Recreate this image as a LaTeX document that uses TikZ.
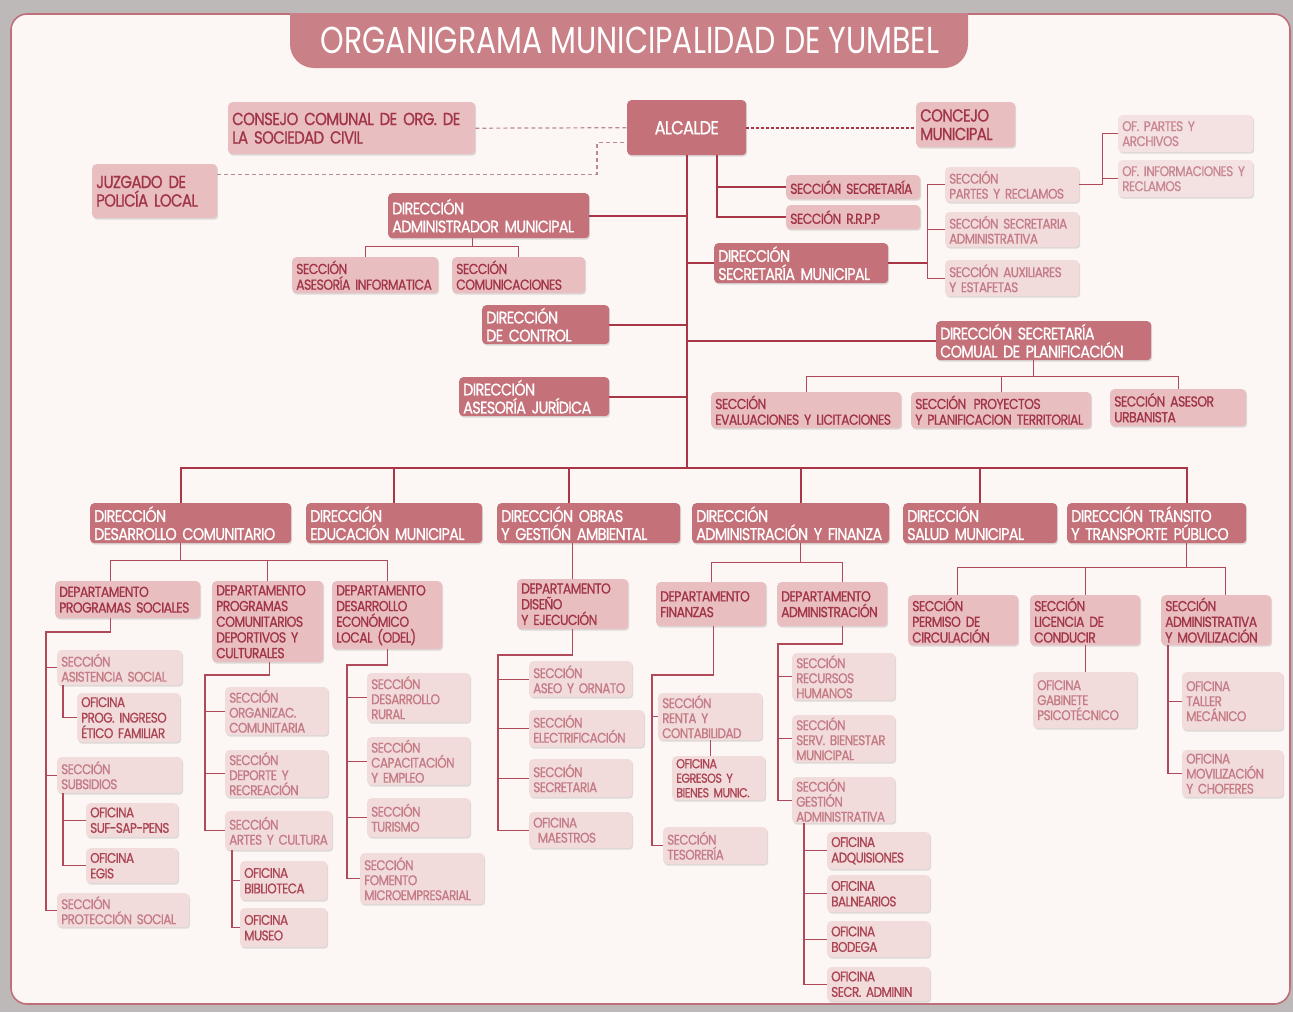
\documentclass[tikz,border=0pt]{standalone}
\usepackage{fontspec}
\newfontfamily\orgfont{Poppins}[FakeStretch=0.86, LetterSpace=-4, FakeBold=0.8, WordSpace=0.7]
\newfontfamily\titlefont{Poppins}[FakeStretch=0.8]
\usetikzlibrary{shadows}
\definecolor{outergray}{HTML}{BDB9B9}
\definecolor{panelbg}{HTML}{FCF7F5}
\definecolor{framecol}{HTML}{BE6F79}
\definecolor{tabfill}{HTML}{C98087}
\definecolor{dirfill}{HTML}{C5717A}
\definecolor{secfill}{HTML}{E8BEC0}
\definecolor{sectext}{HTML}{A13547}
\definecolor{subfill}{HTML}{F1DBDB}
\definecolor{subtext}{HTML}{C47B86}
\definecolor{ofitext}{HTML}{AB4453}
\definecolor{oflfill}{HTML}{F4E2E2}
\definecolor{ofltext}{HTML}{C88790}
\definecolor{linecol}{HTML}{A83647}
\definecolor{twigcol}{HTML}{B04959}
\definecolor{dashcol}{HTML}{B98A8F}

\begin{document}
\begin{tikzpicture}[x=1pt, y=-1pt,
  box/.style={rounded corners=4pt, anchor=north west, inner xsep=4pt, inner ysep=1pt, align=left,
    drop shadow={shadow xshift=1pt, shadow yshift=-1.5pt, opacity=0.25}},
  dirbox/.style={box, fill=dirfill, text=white, font=\orgfont\fontsize{16.8}{18}\selectfont},
  secbox/.style={box, fill=secfill, text=sectext, font=\orgfont\fontsize{14.5}{15.7}\selectfont},
  subbox/.style={box, fill=subfill, text=subtext, font=\orgfont\fontsize{14}{15}\selectfont},
  ofibox/.style={box, fill=subfill, text=ofitext, font=\orgfont\fontsize{14}{15.5}\selectfont},
  oflbox/.style={box, fill=oflfill, text=ofltext, font=\orgfont\fontsize{14}{15}\selectfont},
  trunk/.style={draw=linecol, line width=1.8pt},
  twig/.style={draw=twigcol, line width=1.3pt},
  dashline/.style={draw=dashcol, line width=1.2pt, dash pattern=on 4pt off 3pt},
  dotline/.style={draw=linecol, line width=2.4pt, dash pattern=on 2.4pt off 2.6pt}]
\useasboundingbox (0,0) rectangle (1293,1012);
\fill[outergray] (0,0) rectangle (1293,1012);
\draw[fill=panelbg, draw=framecol, line width=1.6pt, rounded corners=16pt] (11,14) rectangle (1290,1004);
\fill[tabfill] (290,13) [rounded corners=24pt] -- (290,68) -- (968,68) [sharp corners] -- (968,13) -- cycle;
\node[text=white, font=\titlefont\fontsize{37.5}{40}\selectfont] (title) at (630,40) {ORGANIGRAMA MUNICIPALIDAD DE YUMBEL};

\node[dirbox, text width=111pt, minimum height=55pt, align=center, font=\orgfont\fontsize{19}{22}\selectfont] (alcalde) at (627,100) {ALCALDE};
\node[secbox, text width=239pt, minimum height=52pt, font=\orgfont\fontsize{17.5}{18.5}\selectfont] (consejo) at (228,102) {CONSEJO COMUNAL DE ORG. DE\\LA SOCIEDAD CIVIL};
\node[secbox, text width=91pt, minimum height=45pt, font=\orgfont\fontsize{17.5}{18.5}\selectfont] (concejo) at (916,102) {CONCEJO\\MUNICIPAL};
\node[secbox, text width=117pt, minimum height=54pt, font=\orgfont\fontsize{17.5}{18.5}\selectfont] (juzgado) at (92,164) {JUZGADO DE\\POLICÍA LOCAL};

\node[dirbox, text width=193pt, minimum height=45pt] (diradm) at (388,193) {DIRECCIÓN\\ADMINISTRADOR MUNICIPAL};
\node[secbox, text width=138pt, minimum height=36pt] (secinf) at (292,257) {SECCIÓN\\ASESORÍA INFORMATICA};
\node[secbox, text width=125pt, minimum height=36pt] (seccom) at (452,257) {SECCIÓN\\COMUNICACIONES};
\node[secbox, text width=126pt, minimum height=24pt] (secsec) at (786,175) {SECCIÓN SECRETARÍA};
\node[secbox, text width=126pt, minimum height=24pt] (secrrpp) at (786,205) {SECCIÓN R.R.P.P};
\node[dirbox, text width=166pt, minimum height=40pt] (dirsecmun) at (714,243) {DIRECCIÓN\\SECRETARÍA MUNICIPAL};
\node[subbox, text width=126pt, minimum height=35pt] (secpartes) at (945,167) {SECCIÓN\\PARTES Y RECLAMOS};
\node[subbox, text width=126pt, minimum height=35pt] (secsecadm) at (945,212) {SECCIÓN SECRETARIA\\ADMINISTRATIVA};
\node[subbox, text width=126pt, minimum height=36pt] (secaux) at (945,260) {SECCIÓN AUXILIARES\\Y ESTAFETAS};
\node[oflbox, text width=127pt, minimum height=37pt] (ofpartes) at (1118,115) {OF. PARTES Y\\ARCHIVOS};
\node[oflbox, text width=127pt, minimum height=37pt] (ofinfo) at (1118,160) {OF. INFORMACIONES Y\\RECLAMOS};
\node[dirbox, text width=119pt, minimum height=39pt] (dircontrol) at (482,305) {DIRECCIÓN\\DE CONTROL};
\node[dirbox, text width=142pt, minimum height=39pt] (dirjur) at (459,377) {DIRECCIÓN\\ASESORÍA JURÍDICA};
\node[dirbox, text width=207pt, minimum height=39pt] (secplan) at (936,321) {DIRECCIÓN SECRETARÍA\\COMUAL DE PLANIFICACIÓN};
\node[secbox, text width=182pt, minimum height=36pt] (eval) at (711,392) {SECCIÓN\\EVALUACIONES Y LICITACIONES};
\node[secbox, text width=172pt, minimum height=36pt] (proy) at (911,392) {SECCIÓN\enspace PROYECTOS\\Y PLANIFICACION TERRITORIAL};
\node[secbox, text width=128pt, minimum height=37pt] (asesor) at (1110,389) {SECCIÓN ASESOR\\URBANISTA};

\node[dirbox, text width=193pt, minimum height=40pt] (dirdc) at (90,503) {DIRECCIÓN\\DESARROLLO COMUNITARIO};
\node[dirbox, text width=168pt, minimum height=40pt] (diredu) at (306,503) {DIRECCIÓN\\EDUCACIÓN MUNICIPAL};
\node[dirbox, text width=175pt, minimum height=40pt] (dirobr) at (497,503) {DIRECCIÓN OBRAS\\Y GESTIÓN AMBIENTAL};
\node[dirbox, text width=189pt, minimum height=40pt] (diraf) at (692,503) {DIRECCIÓN\\ADMINISTRACIÓN Y FINANZA};
\node[dirbox, text width=146pt, minimum height=40pt] (dirsal) at (903,503) {DIRECCIÓN\\SALUD MUNICIPAL};
\node[dirbox, text width=171pt, minimum height=40pt] (dirtra) at (1067,503) {DIRECCIÓN TRÁNSITO\\Y TRANSPORTE PÚBLICO};

\node[secbox, text width=137pt, minimum height=37pt] (depsoc) at (55,581) {DEPARTAMENTO\\PROGRAMAS SOCIALES};
\node[secbox, text width=103pt, minimum height=81pt] (depcom) at (212,581) {DEPARTAMENTO\\PROGRAMAS\\COMUNITARIOS\\DEPORTIVOS Y\\CULTURALES};
\node[secbox, text width=102pt, minimum height=68pt] (depeco) at (332,581) {DEPARTAMENTO\\DESARROLLO\\ECONÓMICO\\LOCAL (ODEL)};
\node[secbox, text width=103pt, minimum height=50pt] (diseno) at (517,579) {DEPARTAMENTO\\DISEÑO\\Y EJECUCIÓN};
\node[secbox, text width=102pt, minimum height=44pt] (depfin) at (656,582) {DEPARTAMENTO\\FINANZAS};
\node[secbox, text width=102pt, minimum height=44pt] (depadm) at (777,582) {DEPARTAMENTO\\ADMINISTRACIÓN};
\node[secbox, text width=102pt, minimum height=50pt] (permiso) at (908,595) {SECCIÓN\\PERMISO DE\\CIRCULACIÓN};
\node[secbox, text width=102pt, minimum height=50pt] (licencia) at (1030,595) {SECCIÓN\\LICENCIA DE\\CONDUCIR};
\node[secbox, text width=102pt, minimum height=50pt] (admmov) at (1161,595) {SECCIÓN\\ADMINISTRATIVA\\Y MOVILIZACIÓN};

\node[subbox, text width=117pt, minimum height=35pt] (asist) at (57,650) {SECCIÓN\\ASISTENCIA SOCIAL};
\node[ofibox, text width=95pt, minimum height=49pt] (ofiprog) at (77,693) {OFICINA\\PROG. INGRESO\\ÉTICO FAMILIAR};
\node[subbox, text width=117pt, minimum height=36pt] (subs) at (57,757) {SECCIÓN\\SUBSIDIOS};
\node[ofibox, text width=84pt, minimum height=34pt] (ofisuf) at (86,803) {OFICINA\\SUF-SAP-PENS};
\node[ofibox, text width=84pt, minimum height=35pt] (ofiegis) at (86,848) {OFICINA\\EGIS};
\node[subbox, text width=124pt, minimum height=34pt] (protec) at (57,893) {SECCIÓN\\PROTECCIÓN SOCIAL};
\node[subbox, text width=95pt, minimum height=48pt] (organiz) at (225,687) {SECCIÓN\\ORGANIZAC.\\COMUNITARIA};
\node[subbox, text width=95pt, minimum height=47pt] (deporte) at (225,750) {SECCIÓN\\DEPORTE Y\\RECREACIÓN};
\node[subbox, text width=99pt, minimum height=39pt] (artes) at (225,811) {SECCIÓN\\ARTES Y CULTURA};
\node[ofibox, text width=79pt, minimum height=39pt] (biblio) at (240,861) {OFICINA\\BIBLIOTECA};
\node[ofibox, text width=79pt, minimum height=39pt] (museo) at (240,908) {OFICINA\\MUSEO};
\node[subbox, text width=95pt, minimum height=49pt] (rural) at (367,673) {SECCIÓN\\DESARROLLO\\RURAL};
\node[subbox, text width=95pt, minimum height=48pt] (capac) at (367,737) {SECCIÓN\\CAPACITACIÓN\\Y EMPLEO};
\node[subbox, text width=95pt, minimum height=39pt] (turismo) at (367,798) {SECCIÓN\\TURISMO};
\node[subbox, text width=116pt, minimum height=51pt] (fomento) at (360,853) {SECCIÓN\\FOMENTO\\MICROEMPRESARIAL};
\node[subbox, text width=95pt, minimum height=36pt] (aseo) at (529,661) {SECCIÓN\\ASEO Y ORNATO};
\node[subbox, text width=107pt, minimum height=37pt] (electr) at (529,710) {SECCIÓN\\ELECTRIFICACIÓN};
\node[subbox, text width=95pt, minimum height=38pt] (secre) at (529,759) {SECCIÓN\\SECRETARIA};
\node[subbox, text width=95pt, minimum height=36pt] (maestros) at (529,812) {OFICINA\\\ MAESTROS};
\node[subbox, text width=96pt, minimum height=47pt] (renta) at (658,693) {SECCIÓN\\RENTA Y\\CONTABILIDAD};
\node[ofibox, text width=85pt, minimum height=44pt, font=\orgfont\fontsize{13}{14.5}\selectfont] (egresos) at (672,756) {OFICINA\\EGRESOS Y\\BIENES MUNIC.};
\node[subbox, text width=96pt, minimum height=37pt] (tesor) at (663,827) {SECCIÓN\\TESORERÍA};
\node[subbox, text width=95pt, minimum height=47pt] (rrhh) at (792,653) {SECCIÓN\\RECURSOS\\HUMANOS};
\node[subbox, text width=95pt, minimum height=47pt] (bienestar) at (792,715) {SECCIÓN\\SERV. BIENESTAR\\MUNICIPAL};
\node[subbox, text width=95pt, minimum height=46pt] (gestion) at (792,777) {SECCIÓN\\GESTIÓN\\ADMINISTRATIVA};
\node[ofibox, text width=95pt, minimum height=37pt] (adq) at (827,832) {OFICINA\\ADQUISIONES};
\node[ofibox, text width=95pt, minimum height=37pt] (baln) at (827,875) {OFICINA\\BALNEARIOS};
\node[ofibox, text width=95pt, minimum height=36pt] (bodega) at (827,921) {OFICINA\\BODEGA};
\node[ofibox, text width=95pt, minimum height=34pt] (secradm) at (827,967) {OFICINA\\SECR. ADMININ};
\node[subbox, text width=96pt, minimum height=56pt] (gabinete) at (1033,672) {OFICINA\\GABINETE\\PSICOTÉCNICO};
\node[subbox, text width=93pt, minimum height=58pt] (taller) at (1182,672) {OFICINA\\TALLER\\MECÁNICO};
\node[subbox, text width=93pt, minimum height=47pt] (movil) at (1182,750) {OFICINA\\MOVILIZACIÓN\\Y CHOFERES};

\draw[dashline] (consejo.east) -- (alcalde.west);
\draw[dashline] ([yshift=17pt]juzgado.east) -| ([xshift=-30pt,yshift=-15pt]alcalde.west) -- ([yshift=-15pt]alcalde.west);
\draw[dotline] (alcalde.east) -- (alcalde.east -| concejo.west);

\coordinate (mainbus) at (686,468);
\draw[trunk] (alcalde.south) -- (alcalde.south |- mainbus);
\draw[trunk] (diradm.east) -- (diradm.east -| alcalde.south);
\draw[trunk] (dirsecmun.west) -- (dirsecmun.west -| alcalde.south);
\draw[trunk] (dircontrol.east) -- (dircontrol.east -| alcalde.south);
\draw[trunk] (dirjur.east) -- (dirjur.east -| alcalde.south);
\draw[trunk] (secplan.west) -- (secplan.west -| alcalde.south);
\draw[trunk] ([xshift=30pt]alcalde.south) |- (secrrpp.west);
\draw[trunk] (secsec.west) -| ([xshift=30pt]alcalde.south);
\draw[trunk] ([xshift=-10pt]dirdc.north) |- ([xshift=30pt]dirtra.north |- mainbus) -- ([xshift=30pt]dirtra.north);
\draw[trunk] (diredu.north) -- (diredu.north |- mainbus);
\draw[trunk] ([xshift=-20pt]dirobr.north) -- ([xshift=-20pt]dirobr.north |- mainbus);
\draw[trunk] ([xshift=10pt]diraf.north) -- ([xshift=10pt]diraf.north |- mainbus);
\draw[trunk] (dirsal.north) -- (dirsal.north |- mainbus);

\coordinate (smx) at ([xshift=39pt]dirsecmun.east);
\draw[trunk] (dirsecmun.east) -- (smx);
\draw[twig] (secpartes.west) -| (smx) |- (secaux.west);
\draw[twig] (secsecadm.west) -- (secsecadm.west -| smx);
\coordinate (ofx) at ([xshift=23pt]secpartes.east);
\draw[twig] (secpartes.east) -- (ofx) |- (ofpartes.west);
\draw[twig] (ofx |- ofinfo.west) -- (ofinfo.west);

\draw[twig] ([xshift=-16pt]diradm.south) -- ++(0,8) coordinate (admbus);
\draw[twig] (secinf.north) |- (admbus) -| (seccom.north);
\draw[twig] ([xshift=-10pt]secplan.south) -- ++(0,16) coordinate (planbus);
\draw[twig] (eval.north) |- (planbus) -| (asesor.north);
\draw[twig] (proy.north) -- (proy.north |- planbus);

\draw[twig] ([xshift=-10pt]dirdc.south) -- ++(0,17) coordinate (dcbus);
\draw[twig] ([xshift=-17pt]depsoc.north) |- (dcbus) -| (depeco.north);
\draw[twig] (depcom.north) -- (depcom.north |- dcbus);

\coordinate (socx) at (46,632);
\draw[twig] ([xshift=-17pt]depsoc.south) |- (socx) |- (protec.west);
\draw[twig] (asist.west) -- (asist.west -| socx);
\draw[twig] (subs.west) -- (subs.west -| socx);
\draw[twig] ([xshift=6pt]asist.south west) |- (ofiprog.west);
\coordinate (subx) at ([xshift=6pt]subs.south west);
\draw[twig] (subx) |- (ofiegis.west);
\draw[twig] (ofisuf.west) -- (ofisuf.west -| subx);

\coordinate (comx) at (205,675);
\draw[twig] ([xshift=2pt]depcom.south) |- (comx) |- (artes.west);
\draw[twig] (organiz.west) -- (organiz.west -| comx);
\draw[twig] (deporte.west) -- (deporte.west -| comx);
\coordinate (artx) at ([xshift=7pt]artes.south west);
\draw[twig] (artx) |- (museo.west);
\draw[twig] (biblio.west) -- (biblio.west -| artx);

\coordinate (ecox) at (347,665);
\draw[twig] (depeco.south) |- (ecox) |- (fomento.west);
\draw[twig] (rural.west) -- (rural.west -| ecox);
\draw[twig] (capac.west) -- (capac.west -| ecox);
\draw[twig] (turismo.west) -- (turismo.west -| ecox);

\draw[twig] (diseno.north |- dirobr.south) -- (diseno.north);
\coordinate (disx) at (498,655);
\draw[twig] (diseno.south) |- (disx) |- (maestros.west);
\draw[twig] (aseo.west) -- (aseo.west -| disx);
\draw[twig] (electr.west) -- (electr.west -| disx);
\draw[twig] (secre.west) -- (secre.west -| disx);

\draw[twig] ([xshift=10pt]diraf.south) -- ++(0,19) coordinate (afbus);
\draw[twig] (depfin.north) |- (afbus) -| ([xshift=10pt]depadm.north);
\coordinate (finx) at (652,675);
\draw[twig] ([xshift=2pt]depfin.south) |- (finx) |- (tesor.west);
\draw[twig] (renta.west) -- (renta.west -| finx);
\draw[twig] (renta.south) -- (renta.south |- egresos.north);
\coordinate (admx) at (778,644);
\draw[twig] ([xshift=10pt]depadm.south) |- (admx) |- (gestion.west);
\draw[twig] (rrhh.west) -- (rrhh.west -| admx);
\draw[twig] (bienestar.west) -- (bienestar.west -| admx);
\coordinate (gesx) at ([xshift=12pt]gestion.south west);
\draw[twig] (gesx) |- (secradm.west);
\draw[twig] (adq.west) -- (adq.west -| gesx);
\draw[twig] (baln.west) -- (baln.west -| gesx);
\draw[twig] (bodega.west) -- (bodega.west -| gesx);

\draw[twig] ([xshift=30pt]dirtra.south) -- ++(0,24) coordinate (trabus);
\draw[twig] ([xshift=-6pt]permiso.north) |- (trabus) -| ([xshift=9pt]admmov.north);
\draw[twig] (licencia.north) -- (licencia.north |- trabus);
\draw[twig] (licencia.south) -- (licencia.south |- gabinete.north);
\coordinate (movx) at ([xshift=7pt]admmov.south west);
\draw[twig] (movx) |- (movil.west);
\draw[twig] (taller.west) -- (taller.west -| movx);
\end{tikzpicture}
\end{document}
